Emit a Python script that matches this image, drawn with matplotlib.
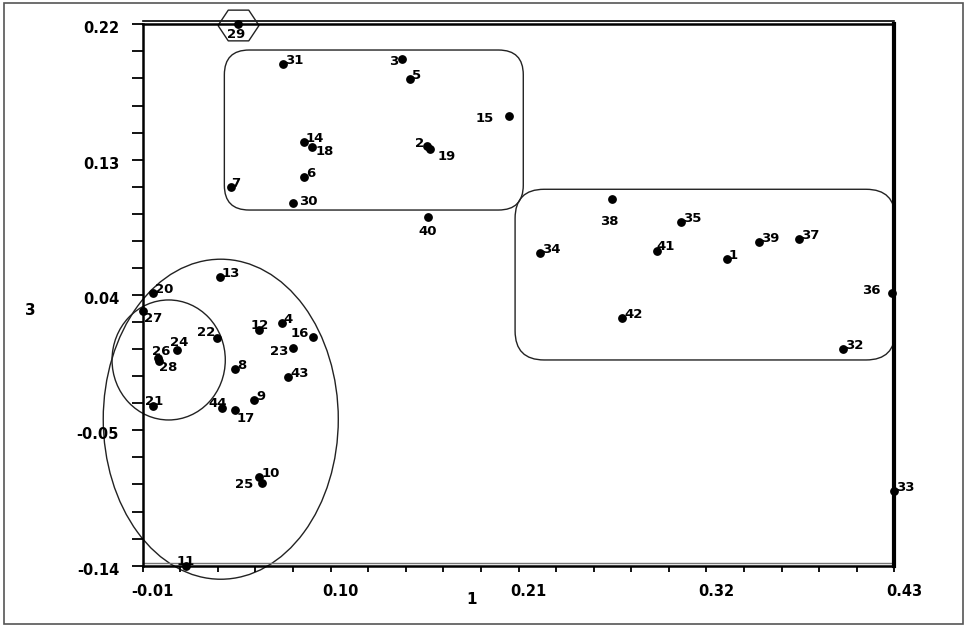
import matplotlib
matplotlib.use("Agg")
import matplotlib.pyplot as plt
from matplotlib.patches import Ellipse, FancyBboxPatch, Rectangle
from matplotlib.lines import Line2D
from matplotlib.transforms import ScaledTranslation
from matplotlib.ticker import FixedLocator

# ---- data ----
point_ids = ["1", "2", "3", "4", "5", "6", "7", "8", "9", "10", "11", "12", "13", "14", "15",
             "16", "17", "18", "19", "20", "21", "22", "23", "24", "25", "26", "27", "28", "29", "30",
             "31", "32", "33", "34", "35", "36", "37", "38", "39", "40", "41", "42", "43", "44"]
x_vals = [0.332, 0.1563, 0.142, 0.0714, 0.1465, 0.0844, 0.0417, 0.0439, 0.0552, 0.0583,
          0.0152, 0.0583, 0.0351, 0.0844, 0.2044, 0.0895, 0.0439, 0.0893, 0.1582, -0.0041,
          -0.0041, 0.0333, 0.0782, 0.0103, 0.0598, -0.0012, -0.0096, -0.0003, 0.046, 0.0778,
          0.072, 0.4001, 0.43, 0.2226, 0.3051, 0.4285, 0.374, 0.2646, 0.351, 0.1568,
          0.2909, 0.2708, 0.0752, 0.0364]
y_vals = [0.0639, 0.1391, 0.1967, 0.0212, 0.1834, 0.1187, 0.112, -0.0092, -0.0298, -0.0808,
          -0.14, 0.0167, 0.0522, 0.1419, 0.1592, 0.0123, -0.0365, 0.1382, 0.1374, 0.0415,
          -0.0338, 0.0112, 0.0048, 0.0032, -0.0852, -0.0021, 0.0296, -0.0037, 0.2205, 0.1014,
          0.1934, 0.0041, -0.0903, 0.0677, 0.0884, 0.0415, 0.077, 0.1036, 0.0753, 0.0921,
          0.0693, 0.0245, -0.0143, -0.0349]
x_ticklabels = ["-0.01", "0.10", "0.21", "0.32", "0.43"]
y_ticklabels = ["-0.14", "-0.05", "0.04", "0.13", "0.22"]
x_label = "1"
y_label = "3"

# ---- label placement (pixel offsets, alignment) ----
label_style = {
    "2": (-3, -1, "right"), "3": (-4, -6, "right"), "15": (-15, -6, "right"),
    "19": (8, -11, "left"), "18": (3, -8, "left"), "30": (6, -2, "left"),
    "40": (0, -18, "center"), "38": (-2, -26, "center"), "36": (-11, -1, "right"),
    "29": (-2, -14, "center"), "27": (1, -11, "left"), "12": (0, 1, "center"),
    "16": (-4, 0, "right"), "22": (-1, 2, "right"), "24": (-7, 4, "left"),
    "26": (-6, 3, "left"), "28": (0, -10, "left"), "23": (-5, -7, "right"),
    "21": (-8, 1, "left"), "44": (-14, 1, "left"), "17": (2, -12, "left"),
    "25": (-9, -5, "right"), "11": (0, 1, "center"), "7": (0, 0, "left"),
    "41": (0, 1, "left"),
}

W, H, DPI = 967, 627, 100
fig = plt.figure(figsize=(W / DPI, H / DPI), dpi=DPI)
fig.patch.set_facecolor("white")

# axes placement from pixel layout
x0, x1 = 142.7, 894.3
ytop, ybot = 24.3, 565.7
ax = fig.add_axes([x0 / W, (H - ybot) / H, (x1 - x0) / W, (ybot - ytop) / H])
ax.set_xlim(-0.01, 0.43)
ax.set_ylim(-0.14, 0.22)

# ticks
xmaj = [float(v) for v in x_ticklabels]
ymaj = [float(v) for v in y_ticklabels]
ax.xaxis.set_major_locator(FixedLocator(xmaj))
ax.yaxis.set_major_locator(FixedLocator(ymaj))
ax.xaxis.set_minor_locator(FixedLocator([-0.01 + 0.022 * i for i in range(21)]))
ax.yaxis.set_minor_locator(FixedLocator([-0.14 + 0.018 * i for i in range(21)]))
ax.set_xticklabels(x_ticklabels)
ax.set_yticklabels(y_ticklabels)
ax.tick_params(axis="x", which="both", direction="out", length=4.5, width=1.3, color="black")
ax.tick_params(axis="y", which="both", direction="out", length=8, width=1.3, color="black")
ax.tick_params(axis="x", which="major", pad=9, labelsize=10.5)
ax.tick_params(axis="y", which="major", pad=9, labelsize=10.5)
for lab in ax.get_xticklabels():
    lab.set_fontweight("bold")
    lab.set_transform(lab.get_transform() + ScaledTranslation(10 / DPI, 0, fig.dpi_scale_trans))
for lab in ax.get_yticklabels():
    lab.set_fontweight("bold")
    lab.set_transform(lab.get_transform() + ScaledTranslation(0, -3 / DPI, fig.dpi_scale_trans))

# spines
for side in ["left", "bottom", "top"]:
    ax.spines[side].set_linewidth(1.8)
    ax.spines[side].set_color("black")
ax.spines["right"].set_linewidth(3)
ax.spines["right"].set_color("black")

# second thin lines (double frame at top and bottom)
ax.add_line(Line2D([0, 1], [1, 1], color="black", lw=1.2, clip_on=False,
                   transform=ax.transAxes + ScaledTranslation(0, 3 / DPI, fig.dpi_scale_trans)))
ax.add_line(Line2D([0, 1], [0, 0], color="#777777", lw=1.0, clip_on=False,
                   transform=ax.transAxes + ScaledTranslation(0, 3 / DPI, fig.dpi_scale_trans)))

# axis labels
fig.text(30 / W, 1 - 310 / H, y_label, ha="center", va="center", fontsize=11, fontweight="bold")
fig.text(472 / W, 1 - 600 / H, x_label, ha="center", va="center", fontsize=11, fontweight="bold")

# outer figure border
fig.add_artist(Rectangle((4 / W, 3 / H), 959 / W, 621 / H, transform=fig.transFigure,
                         fill=False, edgecolor="#555555", lw=1.2))

# group outlines
asp = 1708.2 / 1504.0
box1 = FancyBboxPatch((0.0378, 0.0965), 0.2128 - 0.0378, 0.2029 - 0.0965,
                      boxstyle="round,pad=0,rounding_size=0.0145", mutation_aspect=asp,
                      fill=False, edgecolor="#222222", lw=1.0, clip_on=False)
box2 = FancyBboxPatch((0.208, -0.0032), 0.4305 - 0.208, 0.1103 + 0.0032,
                      boxstyle="round,pad=0,rounding_size=0.0170", mutation_aspect=asp,
                      fill=False, edgecolor="#222222", lw=1.0, clip_on=False)
ax.add_patch(box1)
ax.add_patch(box2)
ax.add_patch(Ellipse((0.0052, -0.0032), 0.0663, 0.0798, fill=False, edgecolor="#222222",
                     lw=1.0, clip_on=False))
ax.add_patch(Ellipse((0.0357, -0.0426), 0.1376, 0.2128, fill=False, edgecolor="#222222",
                     lw=1.0, clip_on=False))

# hexagon around point 29
i29 = point_ids.index("29")
hexv = [(-1, 0), (-0.5, 0.75), (0.5, 0.75), (1, 0), (0.5, -0.75), (-0.5, -0.75), (-1, 0)]
ax.plot([x_vals[i29]], [y_vals[i29] - 0.001], marker=hexv, markersize=29.5, mfc="none",
        mec="#222222", mew=1.0, linestyle="none", clip_on=False)

# points
ax.plot(x_vals, y_vals, "o", color="black", markersize=5.3, clip_on=False, zorder=5)

for pid, xv, yv in zip(point_ids, x_vals, y_vals):
    dx, dy, ha = label_style.get(pid, (2, 0, "left"))
    ax.annotate(pid, (xv, yv), xytext=(dx, dy), textcoords="offset pixels",
                ha=ha, va="baseline", fontsize=9.5, fontweight="bold", color="black",
                annotation_clip=False, zorder=6)

fig.savefig("out.png", dpi=DPI)
